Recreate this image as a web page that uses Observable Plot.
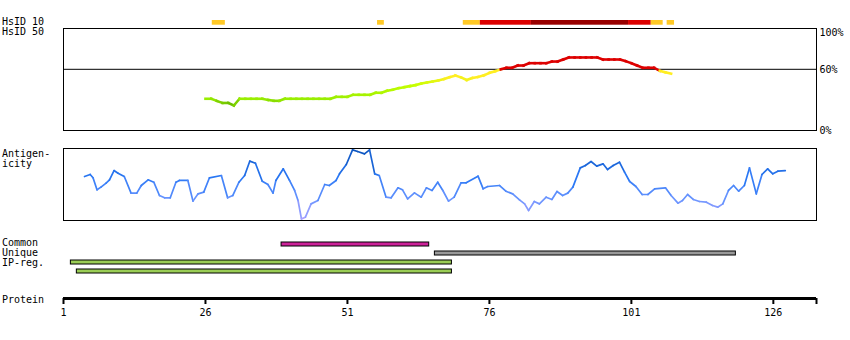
<!DOCTYPE html>
<html><head><meta charset="utf-8">
<script src="https://cdn.jsdelivr.net/npm/d3@7"></script>
<script src="https://cdn.jsdelivr.net/npm/@observablehq/plot@0.6"></script>
<style>
body{margin:0;background:#fff;}
#chart{position:relative;width:850px;height:340px;font-family:"DejaVu Sans Mono",monospace;font-size:10px;}
#chart svg{position:absolute;left:0;top:0;}
.lbl{position:absolute;left:2px;line-height:10px;white-space:pre;color:#000;font-family:"DejaVu Sans Mono",monospace;font-size:10px;}
</style></head><body><div id="chart"></div>
<script>
// ---- data ----
const xDomain = [1, 133.6];
const hsidStart = [27.2, 56.3, 71.4, 74.4, 83.4, 100.5, 104.5, 107.3];
const hsidEnd   = [29.5, 57.5, 74.4, 83.4, 100.5, 104.5, 106.6, 108.6];
const hsidLevel = ["HsID 10","HsID 10","HsID 10","HsID 50","HsID 80","HsID 50","HsID 10","HsID 10"];

const identityStart = 26;
const identityValues = [31.1,31.1,29,27,27,24.5,31.1,31.1,31.1,31.1,31.1,30,29.1,29.1,31.1,31.1,31.1,31.1,31.1,31.1,31.1,31.1,31.1,
  33,33,33,35,35,35,35,37,37,39,40,41.5,42.5,43.5,44.5,46,47,48,49,50.5,52.3,53.9,52,49.5,51.5,52.5,54,56.5,58,60,
  61.5,61.5,63.7,63.7,66,66,66,66,67.6,67.6,69.6,71.6,71.6,71.6,71.6,71.6,71.6,69.6,69.6,69.6,69.6,68,66,63.7,61.5,61.5,61.5,58.5,57,55.6];
const identityTicks = [0, 60, 100];

const antigenPos = [4.7,5.7,6.2,6.9,7.6,8.5,9.1,9.9,10.6,11.7,12.9,13.9,14.7,15.9,16.9,17.9,18.8,19.8,20.8,21.4,22.9,23.8,24.7,25.7,26.7,28.8,29.9,30.8,31.9,32.9,33.8,34.8,36.0,37.0,37.9,38.4,39.7,40.8,41.7,42.3,42.9,43.6,44.6,45.8,47.0,47.8,49.0,49.6,50.8,51.9,52.8,54.0,54.9,55.8,56.6,57.8,58.7,59.9,60.7,61.6,62.8,64.0,64.9,65.9,66.9,67.8,68.8,69.8,71.0,71.9,74.0,74.9,75.7,77.8,78.9,80.1,81.3,82.2,82.9,83.9,84.8,86.0,87.0,87.9,88.9,89.8,90.7,92.0,92.9,93.9,94.9,96.0,96.8,97.8,98.9,99.8,100.7,101.8,102.9,103.9,105.1,107.0,108.0,109.2,110.0,110.9,111.9,113.0,114.2,115.3,116.2,117.1,118.1,119.0,119.9,120.9,121.8,123.0,124.0,125.0,125.9,126.8,128.1];
const antigenScore = [.611,.639,.593,.426,.463,.519,.565,.694,.657,.611,.380,.380,.486,.565,.532,.347,.315,.315,.532,.556,.556,.269,.370,.394,.593,.625,.315,.347,.532,.625,.824,.796,.546,.5,.380,.556,.718,.556,.417,.278,.023,.046,.231,.278,.5,.486,.556,.648,.778,.981,.958,.926,.981,.648,.625,.324,.315,.454,.426,.301,.384,.324,.454,.417,.532,.417,.269,.324,.523,.523,.616,.440,.472,.486,.407,.370,.287,.231,.139,.264,.231,.324,.292,.403,.347,.380,.463,.731,.764,.819,.755,.787,.708,.764,.810,.671,.542,.472,.361,.361,.440,.454,.347,.241,.278,.361,.292,.264,.255,.208,.185,.231,.417,.486,.407,.486,.731,.370,.639,.718,.648,.685,.694];

const regionRows  = ["Common","Unique","IP-reg. a","IP-reg. b"];
const regionStart = [39.4, 66.4, 2.3, 3.35];
const regionEnd   = [65.4, 119.4, 69.4, 69.4];
const regionKind  = ["Common","Unique","IP-reg.","IP-reg."];

const proteinTicks = [1, 26, 51, 76, 101, 126];
const proteinEnd = 133.6;

// ---- build tables ----
const hsid = hsidStart.map((s,i)=>({start:s,end:hsidEnd[i],level:hsidLevel[i]}));
const idPts = identityValues.map((v,i)=>({pos:identityStart+i,v}));
const idColor = d3.scaleLinear().domain([24,31,45,52,59.9]).range(["#5fb000","#99ee00","#c6ff00","#ffee22","#ffee22"]).clamp(true);
const idSegs = d3.pairs(idPts).map(([a,b])=>{const m=(a.v+b.v)/2;return {x1:a.pos,y1:a.v,x2:b.pos,y2:b.v,c:m>=59.5?"#dd0000":idColor(m)};});
const agPts = antigenPos.map((p,i)=>({pos:p,s:antigenScore[i]}));
const agColor = d3.scaleLinear().domain([0,0.3,0.6,1]).range(["#b3a3ff","#6a95ff","#2a78f5","#0a52bb"]);
const agSegs = d3.pairs(agPts).map(([a,b])=>({x1:a.pos,y1:a.s,x2:b.pos,y2:b.s,c:agColor((a.s+b.s)/2)}));
const regions = regionRows.map((r,i)=>({row:r,start:regionStart[i],end:regionEnd[i],kind:regionKind[i]}));

const base = {width:850,height:340,marginLeft:63,marginRight:34,
  style:{background:"transparent",fontFamily:"DejaVu Sans Mono, monospace",fontSize:"10px",color:"#000",overflow:"visible"}};
const chart = document.getElementById("chart");
function add(opts){const el=Plot.plot({...base,...opts});chart.appendChild(el);}

// HsID strip
add({marginTop:20,marginBottom:315.3,x:{domain:xDomain,axis:null},
  color:{domain:["HsID 10","HsID 50","HsID 80"],range:["#ffc926","#dd0000","#990000"]},
  marks:[Plot.barX(hsid,{x1:"start",x2:"end",fill:"level"})]});

// identity line panel
add({marginTop:28,marginBottom:210,x:{domain:xDomain,axis:null},y:{domain:[0,100],axis:null},
  marks:[
    Plot.frame({stroke:"#000"}),
    Plot.ruleY([60],{stroke:"#000"}),
    Plot.link(idSegs,{x1:"x1",y1:"y1",x2:"x2",y2:"y2",stroke:"c",strokeWidth:2.6,strokeLinecap:"square"}),
    Plot.text(identityTicks.filter(d=>d===100),{y:d=>d,text:d=>d+"%",frameAnchor:"right",textAnchor:"start",dx:3,dy:4.5,fill:"#000"}),
    Plot.text(identityTicks.filter(d=>d!==100),{y:d=>d,text:d=>d+"%",frameAnchor:"right",textAnchor:"start",dx:3,dy:0.5,fill:"#000"})
  ]});

// antigenicity panel
add({marginTop:148,marginBottom:120,x:{domain:xDomain,axis:null},y:{domain:[0,1],axis:null},
  marks:[
    Plot.frame({stroke:"#000"}),
    Plot.link(agSegs,{x1:"x1",y1:"y1",x2:"x2",y2:"y2",stroke:"c",strokeWidth:1.7,strokeLinecap:"round"})
  ]});

// regions
add({marginTop:240,marginBottom:65.3,x:{domain:xDomain,axis:null},
  y:{domain:regionRows,axis:null,paddingInner:0.53,paddingOuter:0},
  color:{domain:["Common","Unique","IP-reg."],range:["#cc2299","#999999","#9acd55"]},
  marks:[Plot.barX(regions,{x1:"start",x2:"end",y:"row",fill:"kind",stroke:"#000",strokeWidth:1})]});

// protein axis
add({marginTop:298,marginBottom:36,x:{domain:xDomain,axis:null},y:{domain:[0,1],axis:null},
  marks:[
    Plot.ruleY([1],{stroke:"#000",strokeWidth:3}),
    Plot.ruleX([...proteinTicks,proteinEnd],{y1:1,y2:0,stroke:"#000",strokeWidth:2}),
    Plot.text(proteinTicks,{x:d=>d,y:0,dy:8.5,text:d=>String(d),fill:"#000"})
  ]});

// left labels
const labels = [
  {text:"HsID 10\nHsID 50", top:17},
  {text:"Antigen-\nicity", top:148.5},
  {text:"Common\nUnique\nIP-reg.", top:238},
  {text:"Protein", top:294.8}
];
labels.forEach(l=>{const d=document.createElement("div");d.className="lbl";d.style.top=l.top+"px";d.textContent=l.text;chart.appendChild(d);});
</script>
</body></html>
